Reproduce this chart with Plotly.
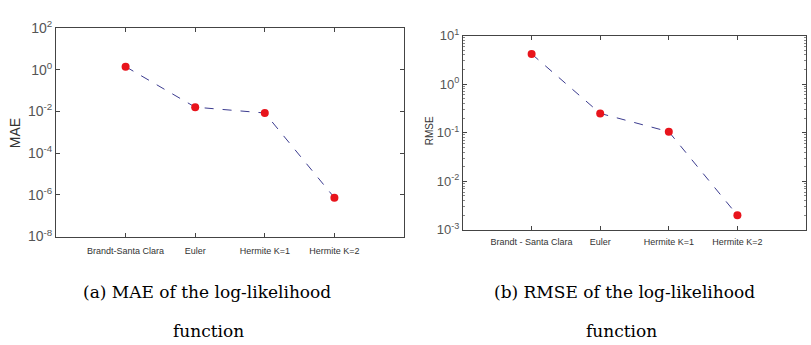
import plotly.graph_objects as go

methods_a = ["Brandt-Santa Clara", "Euler", "Hermite K=1", "Hermite K=2"]
methods_b = ["Brandt - Santa Clara", "Euler", "Hermite K=1", "Hermite K=2"]
mae = [1.4, 0.016, 0.0084, 7.3e-7]
rmse = [4.2, 0.25, 0.105, 0.002]

mae_tickvals = [1e2, 1e0, 1e-2, 1e-4, 1e-6, 1e-8]
mae_ticktext = ["10<sup>2</sup>", "10<sup>0</sup>", "10<sup>-2</sup>", "10<sup>-4</sup>",
                "10<sup>-6</sup>", "10<sup>-8</sup>"]
rmse_tickvals = [1e1, 1e0, 1e-1, 1e-2, 1e-3]
rmse_ticktext = ["10<sup>1</sup>", "10<sup>0</sup>", "10<sup>-1</sup>", "10<sup>-2</sup>",
                 "10<sup>-3</sup>"]

W, H = 811, 345
fig = go.Figure()

line_style = dict(color="#3b3b8f", width=1, dash="dash")
marker_style = dict(color="#e8141c", size=8)

fig.add_trace(go.Scatter(x=[1, 2, 3, 4], y=mae, mode="lines+markers",
                         line=line_style, marker=marker_style,
                         xaxis="x", yaxis="y", showlegend=False))
fig.add_trace(go.Scatter(x=[1, 2, 3, 4], y=rmse, mode="lines+markers",
                         line=line_style, marker=marker_style,
                         xaxis="x2", yaxis="y2", showlegend=False))

axcol = "#444444"
common_x = dict(range=[0, 5], tickmode="array", tickvals=[1, 2, 3, 4],
                ticks="inside", ticklen=4, tickcolor=axcol, showline=True,
                linecolor=axcol, linewidth=1, mirror="allticks", showgrid=False,
                zeroline=False, tickfont=dict(family="Arial", size=9, color="#333"))
fig.update_layout(
    width=W, height=H, margin=dict(l=0, r=0, t=0, b=0),
    paper_bgcolor="white", plot_bgcolor="white",
    xaxis=dict(domain=[56 / W, 404 / W], ticktext=methods_a, anchor="y",
               ticklabelstandoff=6, **common_x),
    xaxis2=dict(domain=[463 / W, 806 / W], ticktext=methods_b, anchor="y2",
                ticklabelstandoff=3, **common_x),
    yaxis=dict(domain=[(H - 239) / H, (H - 19) / H], type="log", range=[-8, 2],
               tickmode="array", tickvals=mae_tickvals, ticktext=mae_ticktext,
               ticks="inside", ticklen=4, tickcolor=axcol, showline=True,
               linecolor=axcol, linewidth=1, mirror="allticks", showgrid=False,
               zeroline=False, anchor="x",
               tickfont=dict(family="Arial", size=14, color="#555")),
    yaxis2=dict(domain=[(H - 232) / H, (H - 27) / H], type="log", range=[-3, 1],
                tickmode="array", tickvals=rmse_tickvals, ticktext=rmse_ticktext,
                ticks="inside", ticklen=4, tickcolor=axcol, showline=True,
                linecolor=axcol, linewidth=1, mirror="allticks", showgrid=False,
                zeroline=False, anchor="x2",
                minor=dict(ticks="inside", ticklen=2, tickcolor="#888",
                           tickvals=[k * 10 ** e for e in range(-3, 1) for k in range(2, 10)]),
                tickfont=dict(family="Arial", size=13, color="#555")),
)

fig.add_annotation(text="MAE", x=15 / W, y=(H - 130) / H, xref="paper", yref="paper",
                   xanchor="center", yanchor="middle",
                   textangle=-90, showarrow=False,
                   font=dict(family="Arial", size=14, color="#333"))
fig.add_annotation(text="RMSE", x=429 / W, y=(H - 128) / H, xref="paper", yref="paper",
                   xanchor="center", yanchor="middle",
                   textangle=-90, showarrow=False,
                   font=dict(family="Arial", size=10, color="#333"))

cap_font = dict(family="DejaVu Serif", size=17, color="black")
captions = [("(a) MAE of the log-likelihood", 207, 298), ("function", 208, 339),
            ("(b) RMSE of the log-likelihood", 624, 298), ("function", 621, 339)]
for txt, cx, cy in captions:
    fig.add_annotation(text=txt, x=cx / W, y=(H - cy) / H, xref="paper", yref="paper",
                       xanchor="center", yanchor="middle",
                       showarrow=False, font=cap_font)

fig.write_html("out.html")
